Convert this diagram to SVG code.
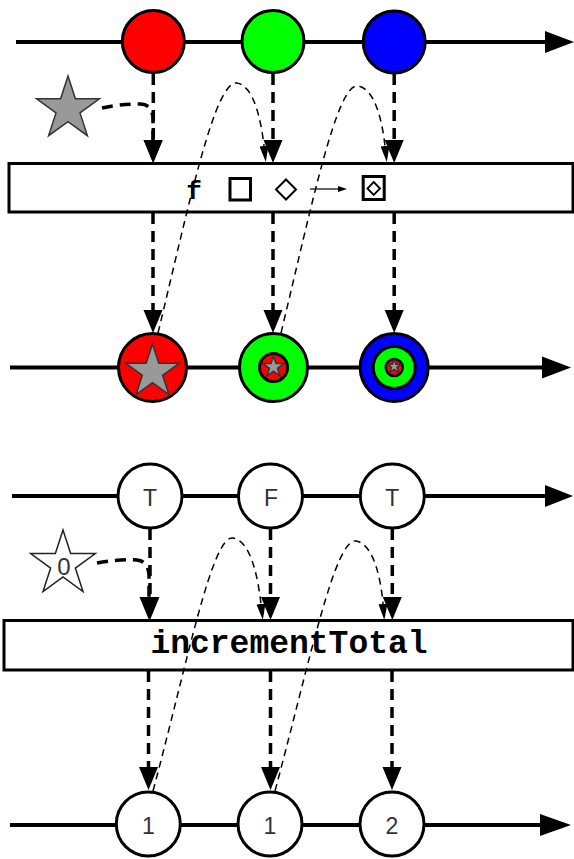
<svg xmlns="http://www.w3.org/2000/svg" width="574" height="859" viewBox="0 0 574 859">
<style>
.tl{stroke:#000;stroke-width:4;fill:none}
.ta{fill:#000}
.c{stroke:#000;stroke-width:3}
.box{fill:#fff;stroke:#000;stroke-width:3}
.lbl{font-family:"Liberation Sans",Arial,sans-serif;font-size:23px;fill:#333;text-anchor:middle}
.mono{font-family:"Liberation Mono","Courier New",monospace;font-weight:bold;fill:#000;text-anchor:middle}
.thick{stroke:#000;stroke-width:3.5;fill:none;stroke-dasharray:11,7;marker-end:url(#ah)}
.thin{stroke:#000;stroke-width:1.5;fill:none;stroke-dasharray:7,5;marker-end:url(#ahs)}
.star{stroke:#333;stroke-width:1.5;fill:#999}
</style>
<defs>
<marker id="ah" markerUnits="userSpaceOnUse" markerWidth="24" markerHeight="20" refX="0" refY="10" orient="auto">
<path d="M0,0.5 L23,10 L0,19.5 z" fill="#000"/>
</marker>
<marker id="ahs" markerUnits="userSpaceOnUse" markerWidth="17" markerHeight="10" refX="0" refY="5" orient="auto">
<path d="M0,0.5 L16,5 L0,9.5 z" fill="#000"/>
</marker>
</defs>
<rect width="574" height="859" fill="#fff"/>

<g id="timeline-top">
<line class="tl" x1="16" y1="42" x2="548" y2="42"/>
<polygon class="ta" points="545,31 574,42 545,53"/>
</g>
<g id="timeline-out1">
<line class="tl" x1="10" y1="367.5" x2="545" y2="367.5"/>
<polygon class="ta" points="542,356.5 571,367.5 542,378.5"/>
</g>
<g id="timeline-bool">
<line class="tl" x1="12" y1="496" x2="548" y2="496"/>
<polygon class="ta" points="545,485 573,496 545,507"/>
</g>
<g id="timeline-out2">
<line class="tl" x1="10" y1="825" x2="543" y2="825"/>
<polygon class="ta" points="540,814 571,825 540,836"/>
</g>

<g id="in-red"><circle class="c" cx="153.3" cy="41.5" r="31" fill="#f00"/></g>
<g id="in-green"><circle class="c" cx="273" cy="41.5" r="31" fill="#0f0"/></g>
<g id="in-blue"><circle class="c" cx="394.2" cy="42" r="31" fill="#00f"/></g>

<g id="seed-star">
<polygon class="star" points="68,76 75.4,98.8 99.4,98.8 80,112.9 87.4,135.7 68,121.6 48.6,135.7 56,112.9 36.6,98.8 60.6,98.8"/>
</g>

<g id="box-f">
<rect class="box" x="9" y="163.5" width="564" height="48.5"/>
<text class="mono" x="194" y="199" font-size="26">f</text>
<rect x="230" y="178.5" width="20.5" height="21.5" fill="none" stroke="#000" stroke-width="3"/>
<polygon points="286,179.5 296,189.5 286,199.5 276,189.5" fill="none" stroke="#000" stroke-width="2"/>
<line x1="310" y1="189" x2="339" y2="189" stroke="#000" stroke-width="1.2"/>
<polygon points="338,186 347,189 338,192" fill="#000"/>
<rect x="363.2" y="176.5" width="21" height="23" fill="none" stroke="#000" stroke-width="3"/>
<polygon points="373.7,182 380,188.5 373.7,195 367.4,188.5" fill="none" stroke="#000" stroke-width="1.8"/>
</g>

<g id="out-red">
<circle class="c" cx="152.5" cy="367.5" r="34" fill="#f00"/>
<polygon class="star" points="152.5,344 158.79,363.34 179.13,363.35 162.68,375.31 168.96,394.65 152.5,382.7 136.04,394.65 142.32,375.31 125.87,363.35 146.21,363.34"/>
</g>
<g id="out-green">
<circle class="c" cx="273.5" cy="367.5" r="34" fill="#0f0"/>
<circle class="c" cx="273.5" cy="367.5" r="14" fill="#f00"/>
<polygon class="star" points="273.5,356 275.97,363.6 283.96,363.6 277.49,368.3 279.97,375.9 273.5,371.2 267.03,375.9 269.51,368.3 263.04,363.6 271.03,363.6"/>
</g>
<g id="out-blue">
<circle class="c" cx="394.2" cy="367.5" r="34" fill="#00f"/>
<circle class="c" cx="394.2" cy="367.5" r="21" fill="#0f0"/>
<circle cx="394.2" cy="367.5" r="8.5" fill="#f00" stroke="#000" stroke-width="2.5"/>
<polygon class="star" stroke-width="1" points="394.2,359 395.89,364.18 401.33,364.18 396.93,367.39 398.61,372.57 394.2,369.37 389.79,372.57 391.47,367.39 387.07,364.18 392.51,364.18"/>
</g>

<g id="in-T1"><circle class="c" cx="150" cy="496" r="32" fill="#fff"/><text class="lbl" x="150" y="506">T</text></g>
<g id="in-F"><circle class="c" cx="270.5" cy="496" r="32" fill="#fff"/><text class="lbl" x="271" y="506">F</text></g>
<g id="in-T2"><circle class="c" cx="392.3" cy="496" r="32" fill="#fff"/><text class="lbl" x="392.3" y="506">T</text></g>

<g id="seed-zero">
<polygon points="63,530 70.64,553.48 95.34,553.49 75.36,568.02 82.99,591.51 63,577 43.01,591.51 50.64,568.02 30.66,553.49 55.36,553.48" fill="#fff" stroke="#222" stroke-width="1.5"/>
<text class="lbl" x="64" y="575" style="font-size:24px">0</text>
</g>

<g id="box-increment">
<rect class="box" x="4" y="620.5" width="569" height="49.5"/>
<text class="mono" x="289" y="653" font-size="33">incrementTotal</text>
</g>

<g id="out-1a"><circle class="c" cx="148.3" cy="824" r="32" fill="#fff"/><text class="lbl" x="148.3" y="834">1</text></g>
<g id="out-1b"><circle class="c" cx="270" cy="824" r="32" fill="#fff"/><text class="lbl" x="270" y="834">1</text></g>
<g id="out-2"><circle class="c" cx="392" cy="824" r="32" fill="#fff"/><text class="lbl" x="392" y="834">2</text></g>

<g id="connectors">
<path class="thick" d="M102,108 Q120,104 140,104 Q152,104 153,118 L153,140"/>
<path class="thick" d="M153.3,74 L153.3,140"/>
<path class="thick" d="M273,74 L273,140"/>
<path class="thick" d="M394.2,74 L394.2,140"/>
<path class="thick" d="M153,213 L153,310"/>
<path class="thick" d="M273,213 L273,310"/>
<path class="thick" d="M394.2,213 L394.2,310"/>
<path class="thin" d="M158,333 C190,200 215,80 237,83 C254,86 261,120 264,146"/>
<path class="thin" d="M281,333 C313,200 337,83 358,86 C375,89 382,120 385,146"/>

<path class="thick" d="M97,563 Q118,559 137,560 Q148,561 149,575 L149,597"/>
<path class="thick" d="M150,529 L150,597"/>
<path class="thick" d="M270.5,529 L270.5,597"/>
<path class="thick" d="M392.3,529 L392.3,597"/>
<path class="thick" d="M148.5,671 L148.5,767"/>
<path class="thick" d="M270.5,671 L270.5,767"/>
<path class="thick" d="M392,671 L392,767"/>
<path class="thin" d="M153,791 C188,660 212,535 233,538 C251,541 258,578 261,604"/>
<path class="thin" d="M275,791 C310,660 335,538 356,541 C374,544 381,580 383,604"/>
</g>
</svg>
